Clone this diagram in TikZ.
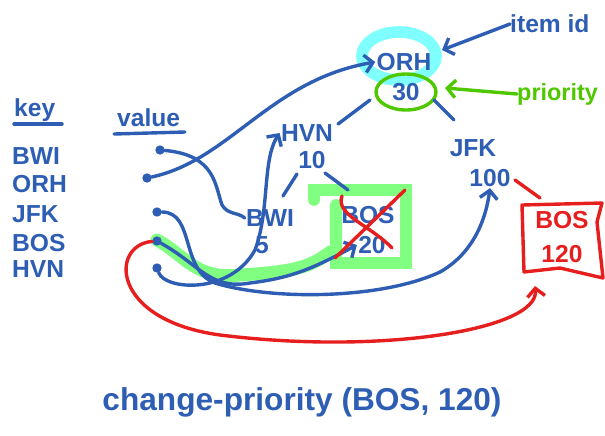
\documentclass[tikz,border=0pt]{standalone}
\usepackage{fontspec}
\setmainfont{Liberation Sans}
\usetikzlibrary{arrows.meta}
\definecolor{ink}{RGB}{46,94,180}
\definecolor{prio}{RGB}{80,200,0}
\definecolor{hlgreen}{RGB}{128,255,128}
\definecolor{hlcyan}{RGB}{128,255,255}
\definecolor{redink}{RGB}{230,30,30}
\tikzset{
  pen/.style={draw=ink, line width=2.9pt, line cap=round, line join=round},
  redpen/.style={draw=redink, line width=2.9pt, line cap=round, line join=round},
  greenpen/.style={draw=prio, line width=2.9pt, line cap=round},
  barb/.style={-{Straight Barb[length=7pt,width=15pt,line width=2.9pt]}},
  keytxt/.style={text=ink, font=\bfseries\fontsize{21}{23}\selectfont, inner sep=0pt, anchor=west},
  heaptxt/.style={text=ink, font=\bfseries\fontsize{21}{23}\selectfont, inner sep=1pt},
  dotn/.style={circle, fill=ink, inner sep=0pt, minimum size=8pt},
}
\begin{document}
\begin{tikzpicture}[x=0.03cm,y=-0.03cm]
\useasboundingbox (0,0) rectangle (605,435);
% highlights
\draw[hlcyan, line width=10pt] (399,56) ellipse [x radius=37, y radius=24];
\draw[hlgreen, line width=10pt, line cap=round] (314,200) -- (314,190) -- (406,190) -- (406,263) -- (336,263) -- (336,205);
\draw[hlgreen, line width=11pt, line cap=round] (157,240) .. controls (185,255) and (195,280) .. (240,275) .. controls (290,272) and (310,268) .. (330,252);
% header
\node[keytxt] (hkey) at (14,110) {key};
\draw[pen] (14,124) -- (62,124);
\node[keytxt] (hval) at (117,118) {value};
\draw[pen] (114,134) -- (185,132);
% keys
\node[keytxt] (kBWI) at (12,156) {BWI};
\node[keytxt] (kORH) at (12,184) {ORH};
\node[keytxt] (kJFK) at (12,214) {JFK};
\node[keytxt] (kBOS) at (12,243) {BOS};
\node[keytxt] (kHVN) at (12,269) {HVN};
% value dots
\node[dotn] (vBWI) at (160,150) {};
\node[dotn] (vORH) at (147,178) {};
\node[dotn] (vJFK) at (157,212) {};
\node[dotn] (vBOS) at (157,241) {};
\node[dotn] (vHVN) at (157,268) {};
% heap nodes
\node[heaptxt] (iORH) at (404,62) {ORH};
\node[heaptxt] (pORH) at (406,92) {30};
\node[heaptxt] (iHVN) at (307,133) {HVN};
\node[heaptxt] (pHVN) at (312,160) {10};
\node[heaptxt] (iJFK) at (473,148) {JFK};
\node[heaptxt] (pJFK) at (490,178) {100};
\node[heaptxt] (iBWI) at (270,218) {BWI};
\node[heaptxt] (pBWI) at (262,245) {5};
\node[heaptxt] (iBOS) at (368,215) {BOS};
\node[heaptxt] (pBOS) at (372,245) {20};
\node[heaptxt, text=redink, align=center, font=\bfseries\fontsize{21}{29}\selectfont] (rBOS) at (562,237) {BOS\\120};
% priority ellipse
\draw[greenpen] (pORH) ellipse [x radius=30, y radius=18];
% labels
\node[text=ink, font=\bfseries\fontsize{21}{23}\selectfont, anchor=west, inner sep=0pt] (lid) at (510,24) {item id};
\node[text=prio, font=\bfseries\fontsize{20}{22}\selectfont, anchor=west, inner sep=0pt] (lprio) at (517,94) {priority};
\draw[pen, barb] (lid.west) -- (442,50);
\draw[greenpen, barb] (lprio.west) -- (445,88);
% heap edges
\draw[pen] (370,100) -- (338,124);
\draw[pen] (434,100) -- (454,120);
\draw[pen] (297,174) -- (283,196);
\draw[pen] (325,173) -- (348,190);
% key -> heap pointers
\draw[pen, barb] (vORH) .. controls (230,160) and (270,80) .. (iORH.west);
\draw[pen] (vBWI) .. controls (215,155) and (215,185) .. (222,205) .. controls (228,215) and (238,212) .. (iBWI.west);
\draw[pen, barb] (vHVN) .. controls (165,290) and (230,295) .. (255,250) .. controls (270,210) and (262,160) .. (iHVN.west);
\draw[pen, barb] (vBOS) .. controls (200,265) and (210,290) .. (250,283) .. controls (290,278) and (310,270) .. (pBOS.west);
\draw[pen, barb] (vJFK) .. controls (195,212) and (180,270) .. (215,283) .. controls (270,300) and (380,300) .. (440,272) .. controls (470,255) and (485,225) .. (pJFK.south);
% red changes
\draw[redpen] (335,258) -- (405,190);
\draw[redpen] (342,196) .. controls (335,215) and (370,225) .. (392,248);
\draw[redpen] (522,205) -- (602,203) -- (597,222) -- (603,278) -- (560,268) -- (524,272) -- cycle;
\draw[redpen] (515,180) -- (540,198);
\draw[redpen, -{Straight Barb[length=7pt,width=15pt,line width=2.9pt]}] (vBOS) .. controls (110,245) and (110,320) .. (220,335) .. controls (380,355) and (540,330) .. (535,286);
% bottom caption
\node[text=ink, font=\bfseries\fontsize{27}{29}\selectfont, inner sep=0pt] (cap) at (302,402) {change-priority (BOS, 120)};
\end{tikzpicture}
\end{document}
